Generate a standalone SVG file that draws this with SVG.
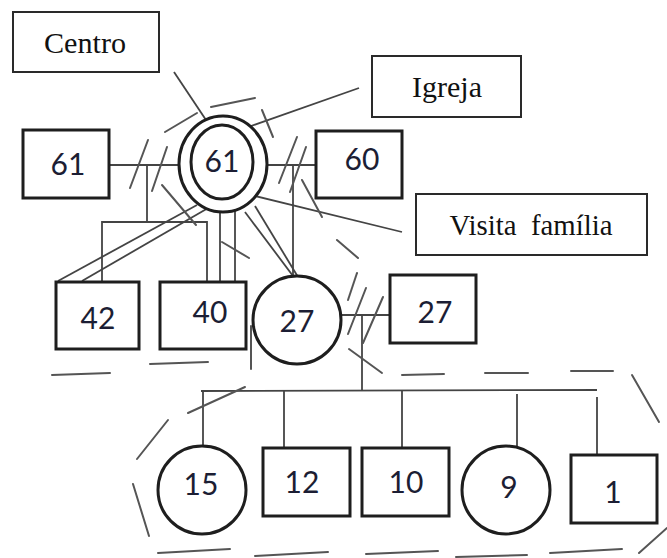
<svg xmlns="http://www.w3.org/2000/svg" width="667" height="558" viewBox="0 0 667 558">
  <style>
    .person { fill: #ffffff; stroke: #1e1e1e; stroke-width: 3; }
    .label  { fill: #ffffff; stroke: #2a2a2a; stroke-width: 2; }
    .age    { font-family: Lato, "Liberation Sans", sans-serif; font-size: 30px; fill: #1c1e34; text-anchor: middle; }
    .place  { font-family: "Liberation Serif", serif; font-size: 30px; fill: #111111; text-anchor: middle; }
    .link   { fill: none; stroke: #444444; stroke-width: 1.8; }
    .mark   { fill: none; stroke: #555555; stroke-width: 2; stroke-linecap: round; }
  </style>

  <!-- connectors: kinship lines, ties to places, separation marks -->
  <g id="connectors">
    <!-- couple lines of the grandparents -->
    <line class="link" x1="109" y1="165" x2="179" y2="165"/>
    <line class="link" x1="267" y1="165" x2="316" y2="165"/>
    <!-- children of the left couple -->
    <polyline class="link" points="147,165 147,222"/>
    <polyline class="link" points="102,282 102,222 207,222 207,282"/>
    <!-- child of the right couple -->
    <line class="link" x1="293" y1="165" x2="293" y2="277"/>
    <!-- close ties from the centre person -->
    <line class="link" x1="58" y1="281" x2="197" y2="205"/>
    <line class="link" x1="82" y1="281" x2="222" y2="200"/>
    <line class="link" x1="220" y1="211" x2="220" y2="282"/>
    <line class="link" x1="235" y1="209" x2="235" y2="282"/>
    <line class="link" x1="245" y1="212" x2="293" y2="276"/>
    <line class="link" x1="255" y1="206" x2="298" y2="277"/>
    <!-- ties to places -->
    <line class="link" x1="174" y1="72" x2="210" y2="126"/>
    <line class="link" x1="359" y1="88" x2="251" y2="126"/>
    <line class="link" x1="247" y1="194" x2="402" y2="232"/>
    <!-- couple 27 / 27 and their children -->
    <line class="link" x1="341" y1="315" x2="390" y2="315"/>
    <line class="link" x1="362" y1="315" x2="362" y2="391"/>
    <line class="link" x1="201" y1="391" x2="597" y2="390"/>
    <line class="link" x1="203" y1="391" x2="203" y2="447"/>
    <line class="link" x1="284" y1="391" x2="284" y2="448"/>
    <line class="link" x1="402" y1="391" x2="402" y2="448"/>
    <line class="link" x1="517" y1="394" x2="517" y2="447"/>
    <line class="link" x1="597" y1="397" x2="597" y2="455"/>
    <!-- separation marks -->
    <line class="mark" x1="148" y1="140" x2="130" y2="188"/>
    <line class="mark" x1="167" y1="147" x2="152" y2="191"/>
    <line class="mark" x1="297" y1="137" x2="279" y2="183"/>
    <line class="mark" x1="306" y1="147" x2="290" y2="192"/>
    <line class="mark" x1="366" y1="288" x2="348" y2="334"/>
    <line class="mark" x1="383" y1="297" x2="363" y2="343"/>
  </g>

  <!-- dashed household outlines -->
  <g id="households" class="mark">
    <line x1="165" y1="132" x2="197" y2="113"/>
    <line x1="211" y1="107" x2="255" y2="98"/>
    <line x1="262" y1="110" x2="273" y2="137"/>
    <line x1="302" y1="180" x2="322" y2="217"/>
    <line x1="337" y1="240" x2="358" y2="258"/>
    <line x1="357" y1="273" x2="348" y2="300"/>
    <line x1="162" y1="185" x2="196" y2="225"/>
    <line x1="222" y1="242" x2="249" y2="258"/>
    <line x1="251" y1="326" x2="251" y2="369"/>
    <line x1="150" y1="364" x2="208" y2="362"/>
    <line x1="52" y1="375" x2="110" y2="373"/>
    <line x1="349" y1="349" x2="382" y2="373"/>
    <line x1="402" y1="375" x2="444" y2="374"/>
    <line x1="485" y1="373" x2="528" y2="373"/>
    <line x1="571" y1="371" x2="613" y2="371"/>
    <line x1="632" y1="375" x2="659" y2="422"/>
    <line x1="667" y1="528" x2="639" y2="553"/>
    <line x1="622" y1="549" x2="550" y2="553"/>
    <line x1="527" y1="555" x2="456" y2="557"/>
    <line x1="438" y1="551" x2="366" y2="554"/>
    <line x1="328" y1="552" x2="255" y2="556"/>
    <line x1="230" y1="549" x2="158" y2="553"/>
    <line x1="149" y1="536" x2="133" y2="484"/>
    <line x1="137" y1="459" x2="168" y2="420"/>
    <line x1="188" y1="413" x2="245" y2="387"/>
  </g>

  <!-- place labels -->
  <g id="centro">
    <rect class="label" x="13" y="12" width="146" height="60"/>
    <text class="place" x="85" y="53" textLength="82" lengthAdjust="spacingAndGlyphs">Centro</text>
  </g>
  <g id="igreja">
    <rect class="label" x="372" y="56" width="149" height="61"/>
    <text class="place" x="447" y="97" textLength="70" lengthAdjust="spacingAndGlyphs">Igreja</text>
  </g>
  <g id="visita-familia">
    <rect class="label" x="416" y="194" width="231" height="61"/>
    <text class="place" x="531" y="235" xml:space="preserve" textLength="163" lengthAdjust="spacingAndGlyphs">Visita  família</text>
  </g>

  <!-- grandparents -->
  <g id="p61-left">
    <rect class="person" x="23" y="130" width="86" height="68"/>
    <text class="age" x="68" y="175">61</text>
  </g>
  <g id="p61-centre">
    <ellipse class="person" cx="223" cy="164" rx="44" ry="48"/>
    <ellipse class="person" cx="222" cy="162" rx="31" ry="37"/>
    <text class="age" x="222" y="172">61</text>
  </g>
  <g id="p60">
    <rect class="person" x="316" y="131" width="86" height="67"/>
    <text class="age" x="362" y="170">60</text>
  </g>

  <!-- second generation -->
  <g id="p42">
    <rect class="person" x="56" y="282" width="83" height="67"/>
    <text class="age" x="98" y="329">42</text>
  </g>
  <g id="p40">
    <rect class="person" x="160" y="282" width="86" height="67"/>
    <text class="age" x="210" y="323">40</text>
  </g>
  <g id="p27-mother">
    <circle class="person" cx="297" cy="320" r="44"/>
    <text class="age" x="297" y="332">27</text>
  </g>
  <g id="p27-father">
    <rect class="person" x="390" y="275" width="86" height="68"/>
    <text class="age" x="435" y="323">27</text>
  </g>

  <!-- children -->
  <g id="p15">
    <circle class="person" cx="202" cy="490" r="44"/>
    <text class="age" x="201" y="495">15</text>
  </g>
  <g id="p12">
    <rect class="person" x="263" y="448" width="87" height="68"/>
    <text class="age" x="302" y="493">12</text>
  </g>
  <g id="p10">
    <rect class="person" x="362" y="448" width="87" height="68"/>
    <text class="age" x="406" y="493">10</text>
  </g>
  <g id="p9">
    <circle class="person" cx="506" cy="490" r="44"/>
    <text class="age" x="509" y="498">9</text>
  </g>
  <g id="p1">
    <rect class="person" x="571" y="455" width="86" height="68"/>
    <text class="age" x="613" y="503">1</text>
  </g>
</svg>
